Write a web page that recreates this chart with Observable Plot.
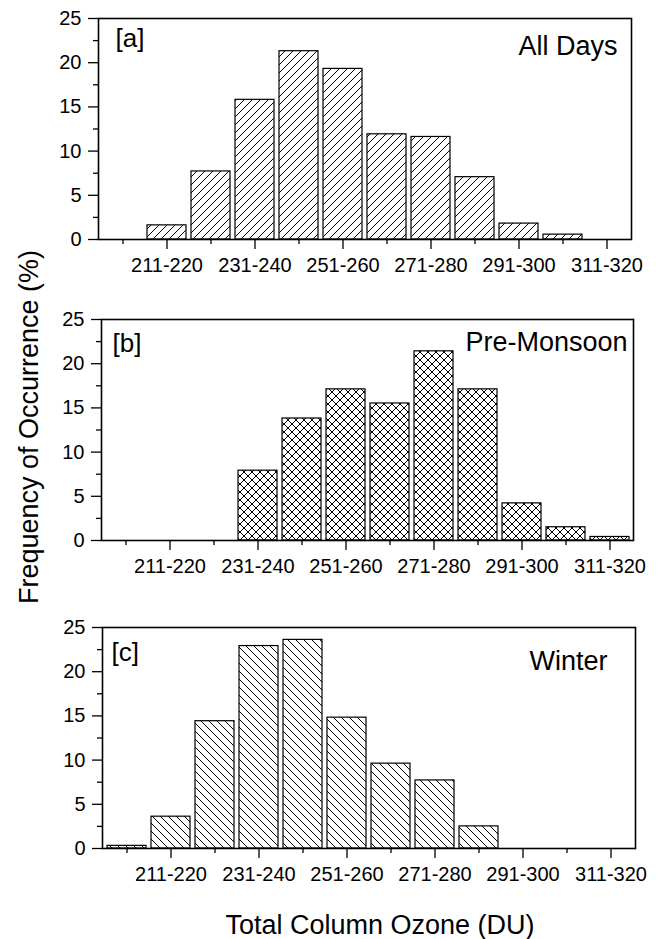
<!DOCTYPE html>
<html><head><meta charset="utf-8">
<script src="https://cdn.jsdelivr.net/npm/d3@7"></script>
<script src="https://cdn.jsdelivr.net/npm/@observablehq/plot@0.6"></script>
<style>
body{margin:0;background:#fff;}
#wrap{position:relative;width:661px;height:939px;background:#fff;overflow:hidden;}
.panel{position:absolute;left:0;}
#titles{position:absolute;left:0;top:0;}
</style></head><body>
<svg width="0" height="0" style="position:absolute">
  <defs>
    <pattern id="hatchA" patternUnits="userSpaceOnUse" width="8" height="8">
      <rect width="8" height="8" fill="#fff"/>
      <path d="M-2,2 L2,-2 M0,8 L8,0 M6,10 L10,6" stroke="#000" stroke-width="1"/>
    </pattern>
    <pattern id="hatchB" patternUnits="userSpaceOnUse" width="8" height="8">
      <rect width="8" height="8" fill="#fff"/>
      <path d="M-2,2 L2,-2 M0,8 L8,0 M6,10 L10,6 M-2,6 L2,10 M0,0 L8,8 M6,-2 L10,2" stroke="#000" stroke-width="1"/>
    </pattern>
    <pattern id="hatchC" patternUnits="userSpaceOnUse" width="8" height="8">
      <rect width="8" height="8" fill="#fff"/>
      <path d="M-2,6 L2,10 M0,0 L8,8 M6,-2 L10,2" stroke="#000" stroke-width="1"/>
    </pattern>
  </defs>
</svg>
<div id="wrap"></div>
<script>
// ---- data ----
const bins = ["201-210","211-220","221-230","231-240","241-250","251-260","261-270","271-280","281-290","291-300","301-310","311-320"];
const labeledBins = ["211-220","231-240","251-260","271-280","291-300","311-320"];
const allDays    = [0, 1.6, 7.7, 15.8, 21.3, 19.3, 11.9, 11.6, 7.05, 1.8, 0.55, 0];
const preMonsoon = [0, 0, 0, 7.9, 13.8, 17.1, 15.5, 21.4, 17.1, 4.2, 1.5, 0.4];
const winter     = [0.3, 3.6, 14.4, 22.9, 23.6, 14.8, 9.6, 7.7, 2.5, 0, 0, 0];
const yTicks = [0, 2.5, 5, 7.5, 10, 12.5, 15, 17.5, 20, 22.5, 25];
const yLabeled = [0, 5, 10, 15, 20, 25];
const panelLabels = ["[a]", "[b]", "[c]"];
const panelTitles = ["All Days", "Pre-Monsoon", "Winter"];
const yTitle = "Frequency of Occurrence (%)";
const xTitle = "Total Column Ozone (DU)";

// ---- layout / style ----
const series = [allDays, preMonsoon, winter];
const fills = ["url(#hatchA)", "url(#hatchB)", "url(#hatchC)"];
const layout = [
  {top: 0,   height: 300, mt: 18, mb: 61, ml: 98,  mr: 30, ldx: 17, ldy: 10, tdx: -14, tdy: 17},
  {top: 300, height: 300, mt: 19, mb: 60, ml: 101, mr: 28, ldx: 11, ldy: 14, tdx: -6,  tdy: 12},
  {top: 608, height: 292, mt: 19, mb: 52, ml: 102, mr: 26, ldx: 9,  ldy: 15, tdx: -28, tdy: 23}
];
const FONT = "'Liberation Sans', Arial, Helvetica, sans-serif";
const MINOR = 5;
const wrap = document.getElementById("wrap");

function shortenMinor(svg, axis, isMinor) {
  const g = svg.querySelector(`g[aria-label="${axis}-axis"]`);
  if (g && g.querySelectorAll("g.tick").length) {
    g.querySelectorAll("g.tick").forEach(tk => {
      const v = tk.__data__;
      if (isMinor(v)) {
        const ln = tk.querySelector("line");
        if (axis === "x") ln.setAttribute("y2", MINOR); else ln.setAttribute("x2", -MINOR);
      }
    });
    return;
  }
  const tg = svg.querySelector(`g[aria-label="${axis}-axis tick"]`);
  if (tg) {
    const ticks = axis === "x" ? bins : yTicks;
    tg.querySelectorAll("path").forEach((p, k) => {
      const v = ticks[k];
      if (isMinor(v)) p.setAttribute("d", axis === "x" ? `M0,0L0,${MINOR}` : `M0,0L${-MINOR},0`);
    });
  }
}

series.forEach((vals, i) => {
  const L = layout[i];
  const rows = bins.map((b, j) => ({bin: b, value: vals[j]}));
  const svg = Plot.plot({
    width: 661, height: L.height,
    marginLeft: L.ml, marginRight: L.mr, marginTop: L.mt, marginBottom: L.mb,
    style: {fontFamily: FONT, fontSize: "20px", color: "#000", background: "transparent", overflow: "visible"},
    x: {domain: bins, paddingInner: 0.12, paddingOuter: 0.06, label: null,
        tickSize: 10, tickPadding: 8, tickFormat: d => labeledBins.includes(d) ? d : ""},
    y: {domain: [0, 25], label: null, ticks: yTicks, tickSize: 10, tickPadding: 7,
        tickFormat: d => yLabeled.includes(d) ? String(d) : ""},
    marks: [
      Plot.barY(rows, {x: "bin", y: "value", fill: fills[i], stroke: "#000", strokeWidth: 1.2}),
      Plot.frame({stroke: "#000", strokeWidth: 1.6}),
      Plot.text([panelLabels[i]], {text: d => d, frameAnchor: "top-left", dx: L.ldx, dy: L.ldy, textAnchor: "start", lineAnchor: "top", fontSize: 26, fill: "#000"}),
      Plot.text([panelTitles[i]], {text: d => d, frameAnchor: "top-right", dx: L.tdx, dy: L.tdy, textAnchor: "end", lineAnchor: "top", fontSize: 27, fill: "#000"})
    ]
  });
  shortenMinor(svg, "x", v => !labeledBins.includes(v));
  shortenMinor(svg, "y", v => !yLabeled.includes(v));
  svg.querySelectorAll('g[aria-label$="axis"] line, g[aria-label$="tick"] path').forEach(e => {
    e.setAttribute("stroke", "#000"); e.setAttribute("stroke-width", "1.3");
  });
  svg.classList.add("panel");
  svg.style.top = L.top + "px";
  wrap.appendChild(svg);
});

// axis titles
const t = d3.select(wrap).append("svg").attr("id", "titles").attr("width", 661).attr("height", 939)
  .style("font-family", FONT).style("pointer-events", "none");
t.append("text").attr("transform", "translate(38,427) rotate(-90)").attr("text-anchor", "middle")
  .attr("font-size", 27).attr("fill", "#000").text(yTitle);
t.append("text").attr("x", 380).attr("y", 934).attr("text-anchor", "middle")
  .attr("font-size", 27).attr("fill", "#000").text(xTitle);
</script>
</body></html>
